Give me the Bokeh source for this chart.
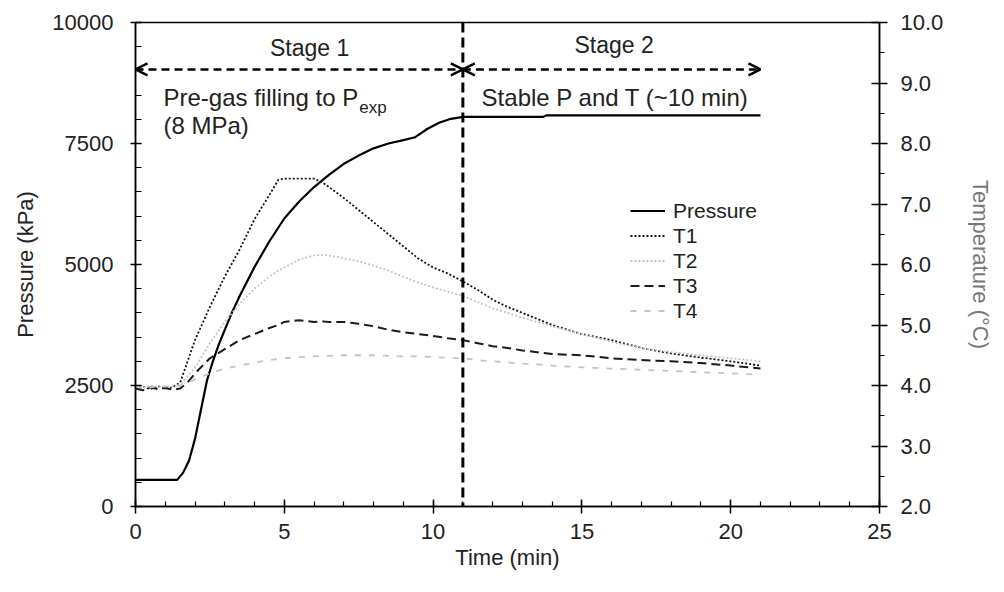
from bokeh.plotting import figure
from bokeh.models import (Range1d, LinearAxis, SingleIntervalTicker, NumeralTickFormatter,
                          Arrow, OpenHead, Span, Label, Legend, LegendItem)
from bokeh.embed import file_html
from bokeh.resources import INLINE

# ---------------- data ----------------
p_time = [0, 1.4, 1.6, 1.8, 2.0, 2.2, 2.4, 2.6, 2.8, 3.0, 3.2, 3.5, 3.75, 4.0, 4.5, 5.0, 5.5, 6.0, 6.5,
          7.0, 7.5, 8.0, 8.5, 9.0, 9.4, 9.8, 10.2, 10.6, 11.0, 13.7, 13.8, 21.0]
pressure = [550, 550, 700, 950, 1400, 2000, 2600, 3000, 3350, 3650, 3950, 4350, 4650, 4950, 5480, 5950,
            6300, 6600, 6850, 7080, 7250, 7400, 7500, 7570, 7630, 7800, 7930, 8010, 8050, 8050, 8080, 8080]

t_time = [0, 0.25, 0.5, 0.75, 1.0, 1.25, 1.5, 1.75, 2.0, 2.5, 3.0, 3.5, 4.0, 4.5, 4.8, 5.0, 5.5, 6.0, 6.3,
          6.5, 7.0, 7.5, 8.0, 8.5, 9.0, 9.5, 10.0, 10.5, 11.0, 11.5, 12.0, 12.5, 13.0, 13.5, 14.0,
          15.0, 16.0, 17.0, 18.0, 19.0, 20.0, 21.0]
T1 = [3.95, 3.98, 3.94, 3.99, 3.95, 3.97, 4.05, 4.40, 4.75, 5.30, 5.80, 6.25, 6.75, 7.15, 7.40, 7.42,
      7.42, 7.42, 7.35, 7.28, 7.10, 6.90, 6.70, 6.50, 6.30, 6.10, 5.95, 5.85, 5.72, 5.58, 5.42, 5.30,
      5.20, 5.10, 5.00, 4.85, 4.75, 4.62, 4.53, 4.46, 4.40, 4.33]
T2 = [3.98, 3.96, 4.00, 3.97, 3.99, 3.98, 4.00, 4.15, 4.30, 4.70, 5.05, 5.35, 5.60, 5.80, 5.90, 5.95,
      6.08, 6.15, 6.16, 6.15, 6.10, 6.05, 5.98, 5.90, 5.80, 5.70, 5.62, 5.55, 5.48, 5.38, 5.28, 5.20,
      5.12, 5.05, 4.98, 4.85, 4.72, 4.62, 4.55, 4.50, 4.45, 4.40]
T3 = [3.95, 3.92, 3.97, 3.94, 3.96, 3.93, 3.95, 4.05, 4.20, 4.45, 4.60, 4.75, 4.85, 4.95, 5.00, 5.05,
      5.08, 5.05, 5.06, 5.05, 5.05, 5.02, 4.98, 4.92, 4.88, 4.85, 4.82, 4.78, 4.75, 4.70, 4.65, 4.62,
      4.58, 4.55, 4.52, 4.50, 4.45, 4.42, 4.40, 4.37, 4.33, 4.28]
T4 = [3.98, 4.00, 3.97, 3.99, 3.98, 4.00, 4.00, 4.05, 4.10, 4.20, 4.28, 4.33, 4.38, 4.42, 4.44, 4.45,
      4.47, 4.48, 4.49, 4.49, 4.50, 4.50, 4.50, 4.49, 4.48, 4.48, 4.47, 4.46, 4.45, 4.42, 4.40, 4.38,
      4.36, 4.35, 4.33, 4.30, 4.28, 4.26, 4.24, 4.22, 4.20, 4.18]

stage_split = 11
stage_end = 21
arrow_level = 9030

FONT = "Liberation Sans"
TXT = "#222222"
LIGHT = "#c4c4c4"

p = figure(width=996, height=576, x_range=Range1d(0, 25), y_range=Range1d(0, 10000),
           output_backend="svg", toolbar_location=None,
           min_border_left=135, min_border_right=113, min_border_top=22, min_border_bottom=70)
p.extra_y_ranges = {"temp": Range1d(2, 10)}
p.grid.visible = False
p.outline_line_color = "black"
p.outline_line_width = 1.5
p.background_fill_color = "white"
p.border_fill_color = "white"

# axes
xa = p.xaxis[0]
xa.ticker = SingleIntervalTicker(interval=5, num_minor_ticks=5)
xa.axis_label = "Time (min)"
ya = p.yaxis[0]
ya.ticker = SingleIntervalTicker(interval=2500, num_minor_ticks=5)
ya.axis_label = "Pressure (kPa)"
ra = LinearAxis(y_range_name="temp", axis_label="Temperature (°C)",
                ticker=SingleIntervalTicker(interval=1, num_minor_ticks=2),
                formatter=NumeralTickFormatter(format="0.0"))
p.add_layout(ra, "right")

for ax in (xa, ya, ra):
    ax.axis_line_color = "black"
    ax.axis_line_width = 1.5
    ax.major_tick_line_color = "black"
    ax.minor_tick_line_color = "black"
    ax.major_tick_line_width = 1.5
    ax.minor_tick_line_width = 1.2
    ax.major_label_text_font = FONT
    ax.major_label_text_font_size = "22px"
    ax.major_label_text_color = TXT
    ax.axis_label_text_font = FONT
    ax.axis_label_text_font_size = "22px"
    ax.axis_label_text_font_style = "normal"
    ax.axis_label_text_color = TXT

xa.major_tick_in = 7; xa.major_tick_out = 7; xa.minor_tick_in = 5; xa.minor_tick_out = 0
xa.major_label_standoff = 10; xa.axis_label_standoff = 3
ya.major_tick_in = 6; ya.major_tick_out = 5; ya.minor_tick_in = 6; ya.minor_tick_out = 0
ya.major_label_standoff = 17; ya.axis_label_standoff = 11
ra.major_tick_in = 8; ra.major_tick_out = 8; ra.minor_tick_in = 0; ra.minor_tick_out = 5
ra.major_label_standoff = 13; ra.axis_label_standoff = 22
ra.axis_label_text_color = "#777777"

# series
r_p = p.line(p_time, pressure, line_color="black", line_width=2.2)
r1 = p.line(t_time, T1, y_range_name="temp", line_color="#111111", line_width=1.8, line_dash="2 2")
r2 = p.line(t_time, T2, y_range_name="temp", line_color=LIGHT, line_width=1.8, line_dash="2 2")
r3 = p.line(t_time, T3, y_range_name="temp", line_color="#1a1a1a", line_width=2, line_dash="9 5")
r4 = p.line(t_time, T4, y_range_name="temp", line_color=LIGHT, line_width=1.8, line_dash="6 8")

# stage divider and arrows
p.add_layout(Span(location=stage_split, dimension="height", line_color="black",
                  line_width=3, line_dash="10 5"))
for xs, xe in ((0, stage_split), (stage_split, stage_end)):
    p.add_layout(Arrow(x_start=xs, y_start=arrow_level, x_end=xe, y_end=arrow_level,
                       line_color="black", line_width=2.5, line_dash="8 5",
                       start=OpenHead(size=12, line_width=2.5, line_color="black"),
                       end=OpenHead(size=12, line_width=2.5, line_color="black")))

def lab(x, y, text, size="24px", align="left"):
    p.add_layout(Label(x=x, y=y, text=text, text_font=FONT, text_font_size=size,
                       text_color=TXT, text_align=align, text_baseline="middle"))

lab(5.85, 9483, "Stage 1", size="23px", align="center")
lab(16.08, 9525, "Stage 2", size="23px", align="center")
lab(0.94, 8450, "Pre-gas filling to P")
lab(7.52, 8244, "exp", size="17px")
lab(0.94, 7872, "(8 MPa)")
lab(11.63, 8450, "Stable P and T (~10 min)")

legend = Legend(items=[LegendItem(label="Pressure", renderers=[r_p]),
                       LegendItem(label="T1", renderers=[r1]),
                       LegendItem(label="T2", renderers=[r2]),
                       LegendItem(label="T3", renderers=[r3]),
                       LegendItem(label="T4", renderers=[r4])],
                location=(495, 183), padding=0, margin=0, spacing=0,
                glyph_width=35, glyph_height=25, label_height=25, label_standoff=8,
                label_text_font=FONT, label_text_font_size="21px", label_text_color=TXT,
                border_line_color=None, background_fill_alpha=0)
p.add_layout(legend)

open("out.html", "w").write(file_html(p, INLINE))
